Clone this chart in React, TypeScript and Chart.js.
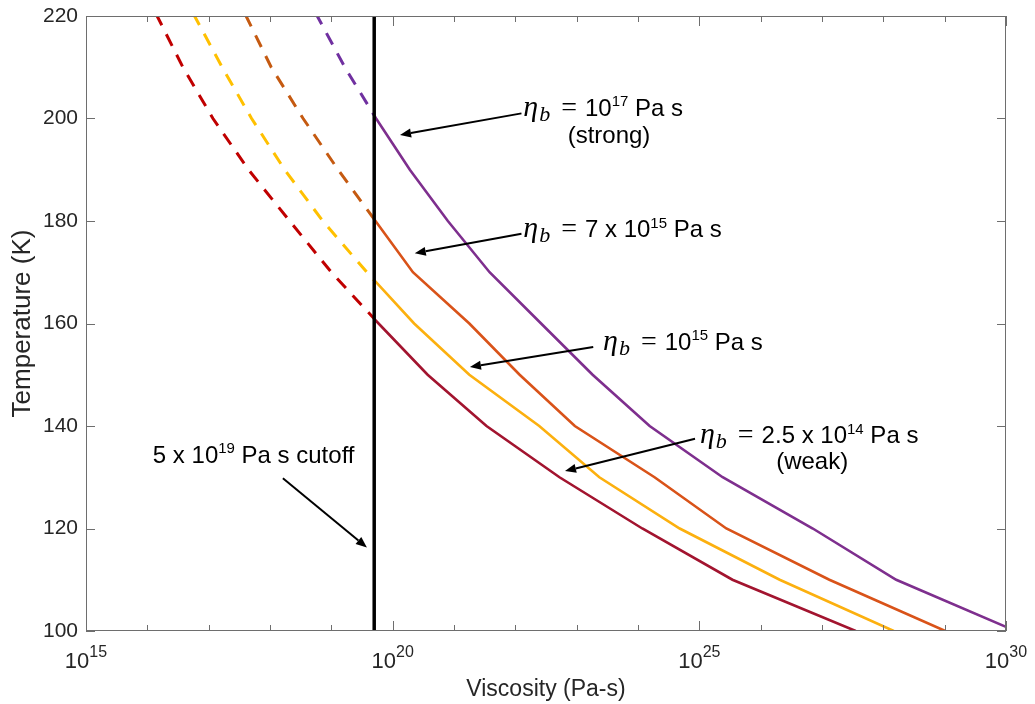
import React, { useEffect, useRef } from 'react';
import { Chart, registerables } from 'chart.js';

Chart.register(...registerables);

// Temperatures (K) at which each viscosity curve is sampled
const temperatures = [100, 110, 120, 130, 140, 150, 160, 170, 180, 190, 200, 210, 220];

// log10 of viscosity (Pa s) for each basal viscosity case
const strongLogVisc = [30.16, 28.21, 26.85, 25.38, 24.19, 23.26, 22.42, 21.58, 20.9, 20.28, 19.73, 19.22, 18.77];
const sevenE15LogVisc = [29.01, 27.12, 25.44, 24.27, 22.97, 22.07, 21.25, 20.33, 19.72, 19.11, 18.54, 18.02, 17.61];
const oneE15LogVisc = [28.17, 26.31, 24.68, 23.37, 22.39, 21.25, 20.35, 19.58, 18.86, 18.24, 17.7, 17.22, 16.77];
const weakLogVisc = [27.55, 25.54, 24.07, 22.72, 21.53, 20.57, 19.77, 19.0, 18.32, 17.65, 17.07, 16.58, 16.16];

// Viscosity cutoff (Pa s): curves are dashed below it and solid above it
const cutoffViscosity = 5e19;

// Axis ticks
const xTickExps = [15, 16, 17, 18, 19, 20, 21, 22, 23, 24, 25, 26, 27, 28, 29, 30];
const xLabelExps = [15, 20, 25, 30];
const yTicks = [100, 120, 140, 160, 180, 200, 220];

const SANS = '"Liberation Sans", Arial, Helvetica, sans-serif';
const MATH = '"Liberation Serif", "Times New Roman", serif';
const INK = '#262626';
const AXIS = '#6e6e6e';

const curves = [
  { values: strongLogVisc, solid: '#7E2F8E', dashed: '#7030A0' },
  { values: sevenE15LogVisc, solid: '#D95319', dashed: '#C55A11' },
  { values: oneE15LogVisc, solid: '#FCB00F', dashed: '#FFC000' },
  { values: weakLogVisc, solid: '#A2142F', dashed: '#C00000' },
];

type Seg = { text: string; font: string; dy?: number; gap?: number };

const etaB = (): Seg[] => [
  { text: 'η', font: `italic 30px ${MATH}` },
  { text: 'b', font: `italic 22px ${MATH}`, dy: 5, gap: 1 },
  { text: '=', font: `28px ${MATH}`, gap: 11 },
];
const sans = (text: string, gap = 0): Seg => ({ text, font: `24px ${SANS}`, gap });
const sup = (text: string): Seg => ({ text, font: `15px ${SANS}`, dy: -9.5 });

// Annotation text: anchor is [log10 viscosity, temperature]
const notes: { at: [number, number]; align?: 'left' | 'center'; segs: Seg[] }[] = [
  { at: [22.13, 200.49], segs: [...etaB(), sans('10', 8), sup('17'), sans(' Pa s')] },
  { at: [23.527, 195.16], align: 'center', segs: [sans('(strong)')] },
  { at: [22.13, 176.82], segs: [...etaB(), sans('7 x 10', 8), sup('15'), sans(' Pa s')] },
  { at: [23.43, 154.83], segs: [...etaB(), sans('10', 8), sup('15'), sans(' Pa s')] },
  { at: [25.01, 136.68], segs: [...etaB(), sans('2.5 x 10', 8), sup('14'), sans(' Pa s')] },
  { at: [26.84, 131.61], align: 'center', segs: [sans('(weak)')] },
  { at: [16.09, 132.84], segs: [sans('5 x 10'), sup('19'), sans(' Pa s cutoff')] },
];

const arrows: { from: [number, number]; to: [number, number] }[] = [
  { from: [22.1, 201.0], to: [20.12, 196.8] },
  { from: [22.1, 177.5], to: [20.36, 173.7] },
  { from: [23.27, 155.4], to: [21.26, 151.5] },
  { from: [24.93, 137.5], to: [22.81, 131.2] },
  { from: [18.21, 129.8], to: [19.58, 116.3] },
];

function segWidth(ctx: CanvasRenderingContext2D, segs: Seg[]) {
  let w = 0;
  for (const s of segs) {
    ctx.font = s.font;
    w += (s.gap || 0) + ctx.measureText(s.text).width;
  }
  return w;
}

function drawSegs(ctx: CanvasRenderingContext2D, x: number, y: number, segs: Seg[]) {
  let cx = x;
  for (const s of segs) {
    cx += s.gap || 0;
    ctx.font = s.font;
    ctx.fillText(s.text, cx, y + (s.dy || 0));
    cx += ctx.measureText(s.text).width;
  }
}

// Dashed copies are kept left of the cutoff, solid copies right of it
const cutoffClip = {
  id: 'cutoffClip',
  beforeDatasetDraw(chart: any, args: any) {
    const ds = chart.data.datasets[args.index];
    if (!ds.side) return;
    const { ctx, chartArea: a } = chart;
    const cx = chart.scales.x.getPixelForValue(cutoffViscosity);
    ctx.save();
    ctx.beginPath();
    if (ds.side === 'left') ctx.rect(a.left - 5, a.top - 5, cx - a.left + 5, a.bottom - a.top + 10);
    else ctx.rect(cx, a.top - 5, a.right - cx + 5, a.bottom - a.top + 10);
    ctx.clip();
  },
  afterDatasetDraw(chart: any, args: any) {
    const ds = chart.data.datasets[args.index];
    if (ds.side) chart.ctx.restore();
  },
};

// Box frame with inward tick marks and superscripted decade labels
const boxAxes = {
  id: 'boxAxes',
  afterDatasetsDraw(chart: any) {
    const { ctx, chartArea: a, scales } = chart;
    ctx.save();
    ctx.strokeStyle = AXIS;
    ctx.lineWidth = 1;
    ctx.strokeRect(Math.round(a.left) + 0.5, Math.round(a.top) + 0.5, Math.round(a.right - a.left) - 1, Math.round(a.bottom - a.top) - 1);
    ctx.beginPath();
    for (const e of xTickExps) {
      const px = Math.round(scales.x.getPixelForValue(10 ** e)) + 0.5;
      const len = xLabelExps.includes(e) ? 10 : 6;
      ctx.moveTo(px, a.bottom);
      ctx.lineTo(px, a.bottom - len);
      ctx.moveTo(px, a.top);
      ctx.lineTo(px, a.top + len);
    }
    for (const t of yTicks) {
      const py = Math.round(scales.y.getPixelForValue(t)) + 0.5;
      ctx.moveTo(a.left, py);
      ctx.lineTo(a.left + 9, py);
      ctx.moveTo(a.right, py);
      ctx.lineTo(a.right - 9, py);
    }
    ctx.stroke();

    ctx.fillStyle = INK;
    ctx.textBaseline = 'alphabetic';
    ctx.textAlign = 'left';
    for (const e of xLabelExps) {
      const px = scales.x.getPixelForValue(10 ** e);
      const segs: Seg[] = [
        { text: '10', font: `22px ${SANS}` },
        { text: String(e), font: `16px ${SANS}`, dy: -11 },
      ];
      const w = segWidth(ctx, segs);
      drawSegs(ctx, px - w / 2, a.bottom + 37, segs);
    }
    ctx.restore();
  },
  afterDraw(chart: any) {
    const { ctx, scales } = chart;
    const X = (v: number) => scales.x.getPixelForValue(10 ** v);
    const Y = (v: number) => scales.y.getPixelForValue(v);
    ctx.save();
    ctx.fillStyle = '#000';
    ctx.textBaseline = 'alphabetic';
    ctx.textAlign = 'left';
    for (const n of notes) {
      let x = X(n.at[0]);
      if (n.align === 'center') x -= segWidth(ctx, n.segs) / 2;
      drawSegs(ctx, x, Y(n.at[1]), n.segs);
    }
    ctx.strokeStyle = '#000';
    ctx.lineWidth = 2;
    for (const ar of arrows) {
      const x0 = X(ar.from[0]), y0 = Y(ar.from[1]);
      const x1 = X(ar.to[0]), y1 = Y(ar.to[1]);
      const ang = Math.atan2(y1 - y0, x1 - x0);
      const headLen = 11, headHalf = 4.5;
      const bx = x1 - Math.cos(ang) * headLen, by = y1 - Math.sin(ang) * headLen;
      ctx.beginPath();
      ctx.moveTo(x0, y0);
      ctx.lineTo(bx, by);
      ctx.stroke();
      ctx.beginPath();
      ctx.moveTo(x1, y1);
      ctx.lineTo(bx + Math.sin(ang) * headHalf, by - Math.cos(ang) * headHalf);
      ctx.lineTo(bx - Math.sin(ang) * headHalf, by + Math.cos(ang) * headHalf);
      ctx.closePath();
      ctx.fillStyle = '#000';
      ctx.fill();
    }
    ctx.restore();
  },
};

export default function App() {
  const ref = useRef<HTMLCanvasElement>(null);

  useEffect(() => {
    const datasets: any[] = [
      {
        label: 'cutoff',
        data: [
          { x: cutoffViscosity, y: 100 },
          { x: cutoffViscosity, y: 220 },
        ],
        borderColor: '#000',
        borderWidth: 3.5,
        pointRadius: 0,
      },
    ];
    for (const c of curves) {
      const pts = c.values.map((v, i) => ({ x: 10 ** v, y: temperatures[i] }));
      datasets.push({
        data: pts,
        side: 'right',
        borderColor: c.solid,
        borderWidth: 2.6,
        pointRadius: 0,
        tension: 0,
      });
      datasets.push({
        data: pts,
        side: 'left',
        borderColor: c.dashed,
        borderWidth: 3,
        borderDash: [13, 10],
        pointRadius: 0,
        tension: 0,
      });
    }

    const chart = new Chart(ref.current!, {
      type: 'line',
      data: { datasets },
      plugins: [cutoffClip, boxAxes],
      options: {
        animation: false,
        responsive: true,
        maintainAspectRatio: false,
        devicePixelRatio: 1,
        layout: { padding: { left: 0, top: 16, right: 29, bottom: 0 } },
        plugins: { legend: { display: false }, tooltip: { enabled: false } },
        events: [],
        scales: {
          x: {
            type: 'logarithmic',
            min: 10 ** xTickExps[0],
            max: 10 ** xTickExps[xTickExps.length - 1],
            afterBuildTicks: (s: any) => {
              s.ticks = xTickExps.map((e) => ({ value: 10 ** e }));
            },
            afterFit: (s: any) => {
              s.height = 73;
              s.paddingLeft = 0;
              s.paddingRight = 0;
            },
            ticks: { display: false },
            grid: { display: false, drawTicks: false },
            border: { display: false },
            title: {
              display: true,
              text: 'Viscosity (Pa-s)',
              color: INK,
              font: { family: SANS, size: 23, lineHeight: 1.2 },
              padding: { top: 0, bottom: 1 },
            },
          },
          y: {
            type: 'linear',
            min: yTicks[0],
            max: yTicks[yTicks.length - 1],
            afterBuildTicks: (s: any) => {
              s.ticks = yTicks.map((t) => ({ value: t }));
            },
            afterFit: (s: any) => {
              s.width = 86;
              s.paddingTop = 0;
              s.paddingBottom = 0;
            },
            ticks: { color: INK, padding: 8, font: { family: SANS, size: 21 } },
            grid: { display: false, drawTicks: false },
            border: { display: false },
            title: {
              display: true,
              text: 'Temperature (K)',
              color: INK,
              font: { family: SANS, size: 26, lineHeight: 1.2 },
              padding: { top: 7, bottom: 0 },
            },
          },
        },
      } as any,
    });
    return () => chart.destroy();
  }, []);

  return (
    <div style={{ position: 'fixed', left: 0, top: 0, width: 1035, height: 704, background: '#fff' }}>
      <canvas ref={ref} />
    </div>
  );
}
